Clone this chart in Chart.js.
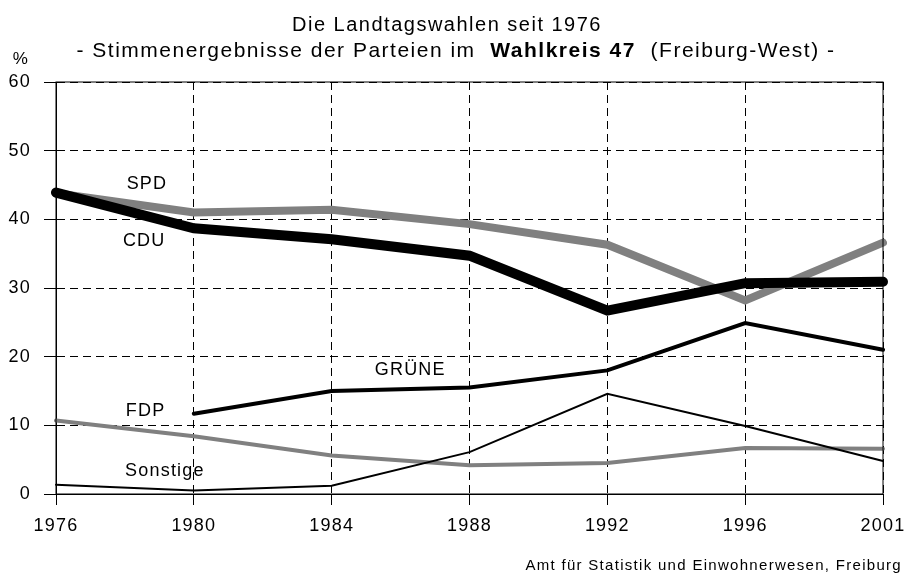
<!DOCTYPE html>
<html lang="de">
  <head>
    <meta charset="UTF-8" />
    <title>Landtagswahlen Wahlkreis 47</title>
    <style>
      * {
        box-sizing: border-box;
        margin: 0;
        padding: 0;
      }

      body {
        background-color: #ffffff;
        width: 906px;
        height: 573px;
        overflow: hidden;
      }

      canvas {
        display: block;
      }
    </style>
    <script src="https://cdn.jsdelivr.net/npm/chart.js"></script>
  </head>
  <body>
    <canvas id="wahlChart" width="906" height="573"></canvas>
    <script>
      const years = ["1976", "1980", "1984", "1988", "1992", "1996", "2001"];

      const cdu = [43.9, 38.7, 37.1, 34.7, 26.7, 30.7, 30.9];
      const spd = [43.8, 41.0, 41.4, 39.3, 36.3, 28.2, 36.6];
      const gruene = [null, 11.7, 15.0, 15.5, 18.0, 24.9, 21.0];
      const fdp = [10.7, 8.4, 5.6, 4.2, 4.5, 6.7, 6.6];
      const sonstige = [1.35, 0.5, 1.2, 6.1, 14.6, 9.9, 4.8];

      const yTicks = [0, 10, 20, 30, 40, 50, 60];

      // party names written next to the lines (x = category index, y = percent)
      const lineLabels = ["SPD", "CDU", "GRÜNE", "FDP", "Sonstige"];
      const lineLabelX = [0.66, 0.64, 2.57, 0.65, 0.79];
      const lineLabelY = [45.2, 36.8, 18.1, 12.1, 3.4];

      const FONT = "'Liberation Sans', Arial, sans-serif";
      const GREY = "#808080";
      const SPACING = "1.2px";

      const chartDecorations = {
        id: "chartDecorations",
        beforeDraw(chart) {
          // the original lettering is a little loose; keep it for all text
          chart.ctx.letterSpacing = SPACING;
        },
        afterDraw(chart) {
          const ctx = chart.ctx;
          const area = chart.chartArea;
          const xScale = chart.scales.x;
          const yScale = chart.scales.y;

          ctx.save();
          ctx.letterSpacing = SPACING;
          // solid frame around the plot
          ctx.strokeStyle = "#000";
          ctx.lineWidth = 1;
          ctx.setLineDash([]);
          ctx.strokeRect(area.left, area.top, area.right - area.left, area.bottom - area.top);

          ctx.fillStyle = "#000";
          ctx.textBaseline = "alphabetic";

          // title, first line
          ctx.font = "20px " + FONT;
          ctx.textAlign = "center";
          ctx.letterSpacing = "1.5px";
          ctx.fillText("Die Landtagswahlen seit 1976", 447, 31);

          // title, second line with bold part
          const parts = [
            { text: "- Stimmenergebnisse der Parteien im  ", bold: false },
            { text: "Wahlkreis 47", bold: true },
            { text: "  (Freiburg-West) -", bold: false },
          ];
          let total = 0;
          parts.forEach((p) => {
            ctx.font = (p.bold ? "bold " : "") + "21px " + FONT;
            p.w = ctx.measureText(p.text).width;
            total += p.w;
          });
          let x = 456 - total / 2;
          ctx.textAlign = "left";
          parts.forEach((p) => {
            ctx.font = (p.bold ? "bold " : "") + "21px " + FONT;
            ctx.fillText(p.text, x, 57);
            x += p.w;
          });
          ctx.letterSpacing = SPACING;

          // unit
          ctx.font = "17px " + FONT;
          ctx.textAlign = "center";
          ctx.fillText("%", 21, 64);

          // source
          ctx.font = "15px " + FONT;
          ctx.textAlign = "right";
          ctx.letterSpacing = "1.3px";
          ctx.fillText("Amt für Statistik und Einwohnerwesen, Freiburg", 902, 570);
          ctx.letterSpacing = SPACING;

          // line labels
          ctx.font = "18px " + FONT;
          ctx.textAlign = "center";
          ctx.textBaseline = "middle";
          lineLabels.forEach((label, i) => {
            ctx.fillText(
              label,
              xScale.getPixelForValue(lineLabelX[i]),
              yScale.getPixelForValue(lineLabelY[i])
            );
          });
          ctx.restore();
        },
      };

      new Chart(document.getElementById("wahlChart").getContext("2d"), {
        type: "line",
        data: {
          labels: years,
          datasets: [
            {
              label: "CDU",
              data: cdu,
              borderColor: "#000000",
              borderWidth: 10,
              order: 1,
            },
            {
              label: "SPD",
              data: spd,
              borderColor: GREY,
              borderWidth: 8,
              order: 4,
            },
            {
              label: "GRÜNE",
              data: gruene,
              borderColor: "#000000",
              borderWidth: 4,
              order: 3,
            },
            {
              label: "FDP",
              data: fdp,
              borderColor: GREY,
              borderWidth: 4,
              order: 5,
            },
            {
              label: "Sonstige",
              data: sonstige,
              borderColor: "#000000",
              borderWidth: 2,
              order: 2,
            },
          ],
        },
        options: {
          responsive: false,
          animation: false,
          events: [],
          layout: {
            padding: { top: 82, right: 23, left: 0, bottom: 0 },
          },
          elements: {
            point: { radius: 0 },
            line: {
              tension: 0,
              fill: false,
              borderCapStyle: "round",
            },
          },
          plugins: {
            legend: { display: false },
            title: { display: false },
            tooltip: { enabled: false },
          },
          scales: {
            x: {
              offset: false,
              afterFit(scale) {
                scale.height = 79;
                scale.paddingLeft = 0;
                scale.paddingRight = 0;
              },
              grid: {
                color: "#000",
                lineWidth: 1,
                tickLength: 11,
                tickColor: "#000",
              },
              border: { display: true, color: "#000", width: 1, dash: [8, 5] },
              ticks: {
                color: "#000",
                padding: 10,
                maxRotation: 0,
                font: { family: FONT, size: 18 },
              },
            },
            y: {
              min: 0,
              max: 60,
              afterFit(scale) {
                scale.width = 56;
                scale.paddingTop = 0;
                scale.paddingBottom = 0;
              },
              afterBuildTicks(scale) {
                scale.ticks = yTicks.map((v) => ({ value: v }));
              },
              grid: {
                color: "#000",
                lineWidth: 1,
                tickLength: 12,
                tickColor: "#000",
              },
              border: { display: true, color: "#000", width: 1, dash: [8, 5] },
              ticks: {
                color: "#000",
                padding: 13,
                font: { family: FONT, size: 18 },
              },
            },
          },
        },
        plugins: [chartDecorations],
      });
    </script>
  </body>
</html>
